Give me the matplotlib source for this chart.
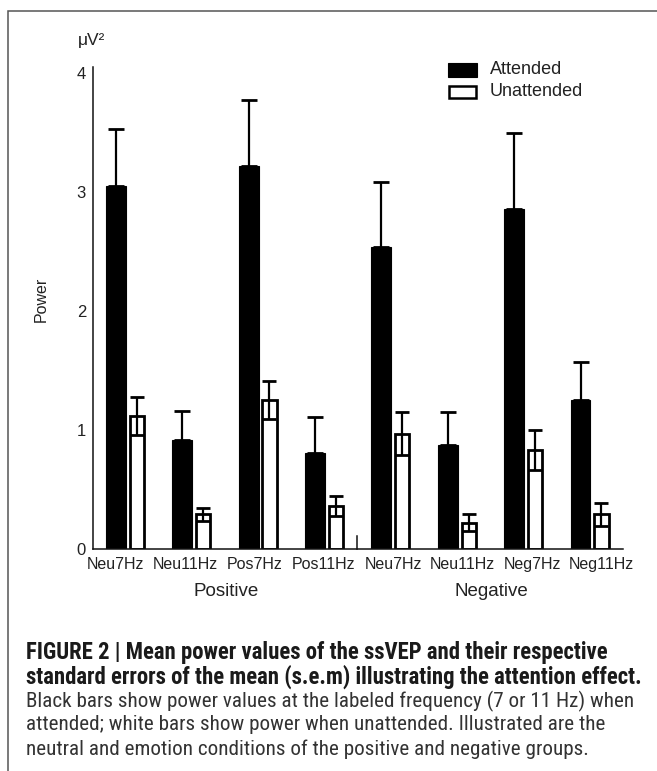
import matplotlib
matplotlib.use('Agg')
import matplotlib.pyplot as plt
from matplotlib import font_manager, transforms
from matplotlib.patches import Rectangle
import numpy as np

# ---------------- data ----------------
conditions = ['Neu7Hz', 'Neu11Hz', 'Pos7Hz', 'Pos11Hz',
              'Neu7Hz', 'Neu11Hz', 'Neg7Hz', 'Neg11Hz']
groups = ['Positive', 'Negative']
attended = [3.05, 0.92, 3.22, 0.81, 2.54, 0.87, 2.86, 1.25]
attended_sem = [0.48, 0.24, 0.55, 0.30, 0.54, 0.28, 0.64, 0.32]
unattended = [1.12, 0.29, 1.25, 0.36, 0.97, 0.22, 0.83, 0.29]
unattended_sem = [0.16, 0.055, 0.16, 0.085, 0.18, 0.07, 0.17, 0.10]
yticks = [0, 1, 2, 3, 4]
series_labels = ['Attended', 'Unattended']
caption_bold = ["FIGURE 2 | Mean power values of the ssVEP and their respective",
                "standard errors of the mean (s.e.m) illustrating the attention effect."]
caption_reg = ["Black bars show power values at the labeled frequency (7 or 11 Hz) when",
               "attended; white bars show power when unattended. Illustrated are the",
               "neutral and emotion conditions of the positive and negative groups."]

# ---------------- fonts ----------------
ttf = font_manager.fontManager.ttflist
names = {f.name for f in ttf}
base_font = 'Liberation Sans' if 'Liberation Sans' in names else 'DejaVu Sans'
plt.rcParams['font.family'] = [base_font, 'DejaVu Sans']


def wnum(w):
    return w if isinstance(w, int) else font_manager.weight_dict.get(w, 400)


def snum(s):
    return s if isinstance(s, int) else font_manager.stretch_dict.get(s, 500)


narrow_fams = ('Liberation Sans Narrow', 'Roboto Condensed', 'Open Sans Condensed')
pref_families = ['Liberation Sans Narrow', 'Roboto Condensed', 'Noto Sans',
                 'DejaVu Sans', 'Open Sans']


def pick_condensed(weight_target):
    for fam in pref_families:
        best = None
        for f in ttf:
            if f.name != fam or f.style != 'normal':
                continue
            s = snum(f.stretch)
            if fam not in narrow_fams and s not in (300, 400):
                continue
            d = abs(wnum(f.weight) - weight_target)
            if fam not in narrow_fams and s == 400:
                d += 50
            if best is None or d < best[0]:
                best = (d, f)
        if best is not None and best[0] < 150:
            return best[1].fname
    return None


bold_file = pick_condensed(700)
reg_file = pick_condensed(400)


def cap_props(bold, size):
    fname = bold_file if bold else reg_file
    if fname:
        return font_manager.FontProperties(fname=fname, size=size)
    return font_manager.FontProperties(family=base_font, size=size,
                                       weight='bold' if bold else 'normal')


W, H = 657, 771
fig = plt.figure(figsize=(W / 100, H / 100), dpi=100)
fig.patch.set_facecolor('white')


def fx(px):
    return px / W


def fy(py):
    return 1 - py / H


# outer frame (only top/left visible in the crop)
fig.add_artist(Rectangle((fx(8), fy(1000)), 1.2, fy(10.7) - fy(1000),
                         transform=fig.transFigure, fill=False,
                         edgecolor='#555555', lw=1.1, clip_on=False))

# ---------------- axes ----------------
y0_px, unit_px = 549, 119
ymax = 4.05
ax = fig.add_axes([fx(93), fy(y0_px), fx(623) - fx(93),
                   fy(y0_px - ymax * unit_px) - fy(y0_px)])

n = len(conditions)
x = np.arange(n)
w_att, w_un, off = 0.30, 0.215, 0.315

ax.bar(x, attended, w_att, color='black', edgecolor='black', lw=0.8, zorder=2)
ax.bar(x + off, unattended, w_un, color='white', edgecolor='black', lw=2.0, zorder=2)
ax.errorbar(x, attended, yerr=[np.zeros(n), attended_sem], fmt='none',
            ecolor='black', elinewidth=1.6, capsize=5.5, capthick=2.0, zorder=3)
ax.errorbar(x + off, unattended, yerr=unattended_sem, fmt='none',
            ecolor='black', elinewidth=1.6, capsize=5.0, capthick=2.0, zorder=3)

ax.set_xlim(-0.343, 7.64)
ax.set_ylim(0, ymax)

for s in ['top', 'right']:
    ax.spines[s].set_visible(False)
for s in ['left', 'bottom']:
    ax.spines[s].set_linewidth(1.1)
    ax.spines[s].set_color('#111111')

ax.set_yticks(yticks)
ax.set_yticklabels([str(v) for v in yticks], fontsize=12, color='#222222')
ax.tick_params(axis='y', length=0, pad=5)

label_pos = x + off / 2 + (x - 3.5) * 0.045
ax.set_xticks(label_pos)
ax.set_xticklabels(conditions, fontsize=11.5, color='#222222')
ax.tick_params(axis='x', length=0, pad=6)

# separator tick between the two groups
xs = (3 + off + w_un / 2 + 4 - w_att / 2) / 2
ax.plot([xs, xs], [0, 0.11], color='#111111', lw=1.1, clip_on=False, zorder=3)

# group labels
blend = transforms.blended_transform_factory(ax.transData, fig.transFigure)
pair_c = x + off / 2
ax.text(pair_c[:4].mean(), fy(592), groups[0], transform=blend, ha='center',
        va='center', fontsize=13.5, color='#222222')
ax.text(pair_c[4:].mean(), fy(592), groups[1], transform=blend, ha='center',
        va='center', fontsize=13.5, color='#222222')

# y label and unit
ax.set_ylabel('Power', fontsize=11.5, color='#222222', va='center')
ax.yaxis.set_label_coords((41 - 93) / 530, (y0_px - 299) / (ymax * unit_px))
fig.text(fx(92), fy(40), 'μV²', ha='center', va='center', fontsize=12.5, color='#222222')

# legend (manual)
fig.add_artist(Rectangle((fx(448), fy(77.3)), fx(477) - fx(448), fy(62.7) - fy(77.3),
                         transform=fig.transFigure, facecolor='black', edgecolor='black', lw=0.8))
fig.add_artist(Rectangle((fx(449), fy(98)), fx(476) - fx(449), fy(86) - fy(98),
                         transform=fig.transFigure, facecolor='white', edgecolor='black', lw=1.8))
fig.text(fx(490), fy(69), series_labels[0], ha='left', va='center', fontsize=13, color='#222222')
fig.text(fx(490), fy(92), series_labels[1], ha='left', va='center', fontsize=13, color='#222222')

# ---------------- caption ----------------
r = fig.canvas.get_renderer()


def fit_size(s, target, bold):
    t = fig.text(0, 0, s, fontproperties=cap_props(bold, 10))
    wdt = t.get_window_extent(renderer=r).width
    t.remove()
    return 10 * target / wdt


sb = fit_size(caption_bold[1], 645 - 26, True)
sr = fit_size(caption_reg[0], 632 - 26, False)
line_y = [653, 677, 701, 725, 749]
for i, s in enumerate(caption_bold):
    fig.text(fx(26), fy(line_y[i]), s, ha='left', va='center',
             fontproperties=cap_props(True, sb), color='#1a1a1a')
for i, s in enumerate(caption_reg):
    fig.text(fx(26), fy(line_y[i + 2]), s, ha='left', va='center',
             fontproperties=cap_props(False, sr), color='#333333')

fig.savefig('out.png', dpi=100, facecolor='white')
